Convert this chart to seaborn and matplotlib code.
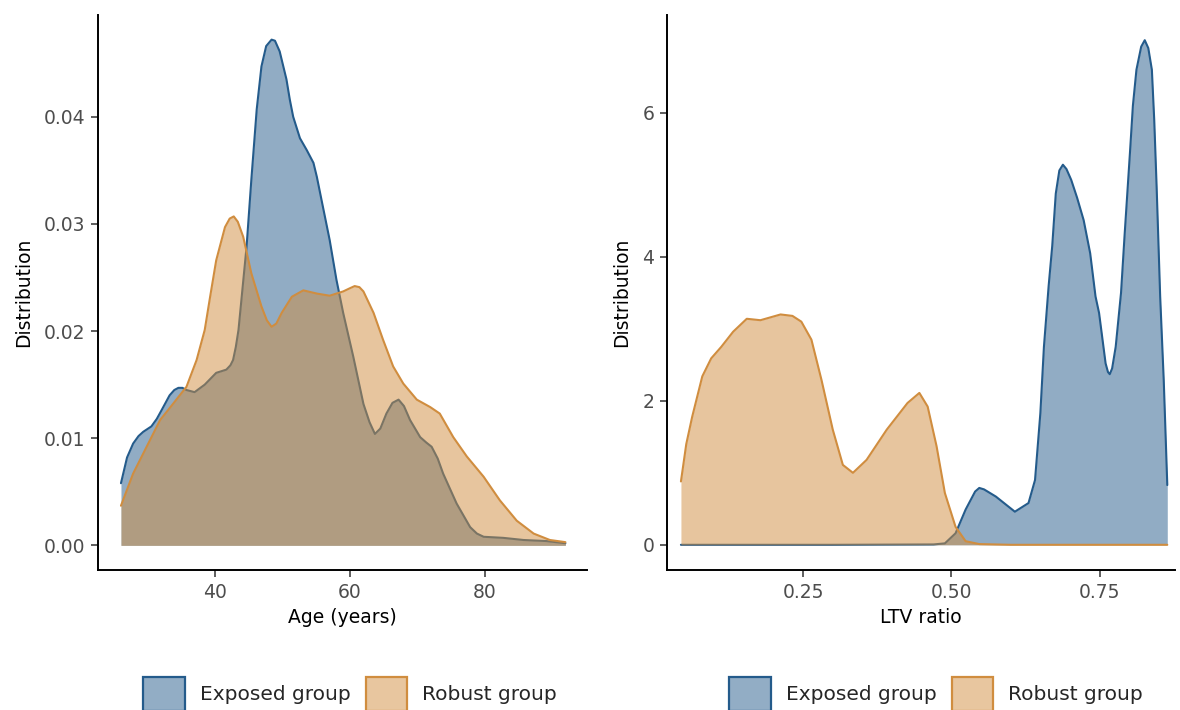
import matplotlib
matplotlib.use("Agg")
import matplotlib.pyplot as plt
from matplotlib.patches import Patch
import seaborn as sns

# density curves
age_exposed = [26.1, 27.0, 27.9, 28.7, 29.4, 30.6, 31.4, 32.1, 33.3, 34.0, 34.6, 35.2, 35.8, 37.0,
               38.5, 40.2, 41.7, 42.3, 42.7, 43.1, 43.5, 44.1, 44.7, 45.4, 46.2, 46.9, 47.6, 48.4,
               48.9, 49.6, 50.6, 51.1, 51.6, 52.6, 53.6, 54.1, 54.6, 55.1, 56.0, 57.0, 58.0, 59.0,
               60.5, 62.0, 62.9, 63.7, 64.5, 65.4, 66.3, 67.2, 68.0, 68.9, 70.4, 71.3, 72.1, 73.0,
               73.8, 75.8, 77.8, 78.8, 79.8, 82.7, 85.7, 89.1, 91.9]
dens_age_exposed = [0.0058, 0.0082, 0.0095, 0.0102, 0.0106, 0.0111, 0.0118, 0.0126, 0.0140, 0.0145,
                    0.0147, 0.0147, 0.0145, 0.0143, 0.0150, 0.0161, 0.0164, 0.0168, 0.0173, 0.0185,
                    0.0201, 0.0240, 0.0279, 0.0341, 0.0407, 0.0447, 0.0466, 0.0472, 0.0471, 0.0461,
                    0.0435, 0.0416, 0.0400, 0.0380, 0.0369, 0.0363, 0.0357, 0.0344, 0.0316, 0.0285,
                    0.0248, 0.0217, 0.0176, 0.0132, 0.0115, 0.0104, 0.0109, 0.0123, 0.0133, 0.0136,
                    0.0130, 0.0117, 0.0101, 0.0096, 0.0092, 0.0081, 0.0067, 0.0039, 0.0017, 0.0011,
                    0.0008, 0.0007, 0.0005, 0.0004, 0.0002]

age_robust = [26.1, 27.9, 29.9, 31.9, 33.8, 35.8, 37.3, 38.5, 39.3, 40.2, 41.5, 42.2, 42.8, 43.4,
              44.2, 45.4, 46.9, 47.7, 48.4, 49.1, 49.9, 51.4, 53.1, 55.1, 57.0, 59.0, 60.0, 60.7,
              61.4, 62.0, 63.5, 64.9, 66.4, 67.9, 69.9, 71.9, 73.3, 75.3, 77.3, 79.8, 82.2, 84.7,
              87.2, 89.6, 91.9]
dens_age_robust = [0.0037, 0.0067, 0.0092, 0.0117, 0.0132, 0.0148, 0.0173, 0.0201, 0.0232, 0.0266,
                   0.0297, 0.0305, 0.0307, 0.0302, 0.0288, 0.0254, 0.0223, 0.0210, 0.0204, 0.0207,
                   0.0217, 0.0232, 0.0238, 0.0235, 0.0233, 0.0237, 0.0240, 0.0242, 0.0241, 0.0237,
                   0.0217, 0.0192, 0.0167, 0.0151, 0.0136, 0.0129, 0.0123, 0.0101, 0.0083, 0.0064,
                   0.0042, 0.0023, 0.0011, 0.0005, 0.0003]

ltv_exposed = [0.044, 0.300, 0.470, 0.489, 0.507, 0.524, 0.540, 0.547, 0.555, 0.575, 0.607, 0.630,
               0.641, 0.650, 0.656, 0.664, 0.670, 0.676, 0.682, 0.688, 0.694, 0.702, 0.712, 0.723,
               0.734, 0.743, 0.749, 0.760, 0.764, 0.767, 0.771, 0.777, 0.786, 0.792, 0.801, 0.806,
               0.812, 0.820, 0.826, 0.832, 0.838, 0.842, 0.846, 0.852, 0.858, 0.864]
dens_ltv_exposed = [0.0, 0.0, 0.005, 0.02, 0.16, 0.49, 0.74, 0.79, 0.77, 0.67, 0.46, 0.58,
                    0.90, 1.83, 2.75, 3.60, 4.15, 4.88, 5.20, 5.28, 5.22, 5.07, 4.82, 4.51,
                    4.05, 3.45, 3.22, 2.52, 2.40, 2.37, 2.45, 2.75, 3.50, 4.30, 5.44, 6.10,
                    6.60, 6.92, 7.01, 6.90, 6.60, 5.90, 4.98, 3.45, 2.29, 0.83]

ltv_robust = [0.044, 0.053, 0.063, 0.080, 0.095, 0.112, 0.132, 0.155, 0.178, 0.212, 0.232, 0.247,
              0.264, 0.281, 0.300, 0.317, 0.334, 0.357, 0.391, 0.426, 0.446, 0.460, 0.475, 0.489,
              0.507, 0.524, 0.547, 0.600, 0.700, 0.864]
dens_ltv_robust = [0.88, 1.40, 1.78, 2.34, 2.59, 2.75, 2.96, 3.14, 3.12, 3.20, 3.18, 3.10,
                   2.85, 2.29, 1.60, 1.11, 1.00, 1.18, 1.60, 1.97, 2.11, 1.92, 1.37, 0.72,
                   0.25, 0.05, 0.01, 0.0, 0.0, 0.0]

groups = ["Exposed group", "Robust group"]
line_colors = ["#245b8b", "#d08d3f"]

sns.set_theme(style="ticks")
plt.rcParams["font.family"] = ["DejaVu Sans"]

fig = plt.figure(figsize=(11.8, 7.1), dpi=100)
ax1 = fig.add_axes([98 / 1180, 1 - 570 / 710, 489 / 1180, 555 / 710])
ax2 = fig.add_axes([667 / 1180, 1 - 570 / 710, 508 / 1180, 555 / 710])

panels = [
    (ax1, [(age_exposed, dens_age_exposed), (age_robust, dens_age_robust)], "Age (years)"),
    (ax2, [(ltv_exposed, dens_ltv_exposed), (ltv_robust, dens_ltv_robust)], "LTV ratio"),
]

for ax, series, xlabel in panels:
    z = 1
    # each group: area, then its outline, so the later area covers the earlier outline
    for (x, y), col in zip(series, line_colors):
        ax.fill_between(x, 0, y, color=col, alpha=0.5, linewidth=0, zorder=z)
        sns.lineplot(x=x, y=y, ax=ax, color=col, linewidth=1.5, zorder=z + 1)
        z += 2
    ax.set_xlabel(xlabel, fontsize=13.5, color="black", labelpad=5)
    ax.set_ylabel("Distribution", fontsize=13.5, color="black", labelpad=8)
    sns.despine(ax=ax)
    for s in ["left", "bottom"]:
        ax.spines[s].set_linewidth(1.4)
        ax.spines[s].set_color("black")
    ax.tick_params(axis="both", labelsize=13.5, labelcolor="#4d4d4d", color="#333333",
                   length=5, width=1.1, pad=4)
    ax.grid(False)

ax1.set_xlim(22.7, 95.1)
ax1.set_ylim(-0.0023, 0.0495)
ax1.set_xticks([40, 60, 80])
ax1.set_yticks([0.00, 0.01, 0.02, 0.03, 0.04])
ax1.set_yticklabels(["0.00", "0.01", "0.02", "0.03", "0.04"])

ax2.set_xlim(0.0205, 0.877)
ax2.set_ylim(-0.35, 7.36)
ax2.set_xticks([0.25, 0.50, 0.75])
ax2.set_xticklabels(["0.25", "0.50", "0.75"])
ax2.set_yticks([0, 2, 4, 6])

handles = []
for col in line_colors:
    rgb = matplotlib.colors.to_rgb(col)
    fill = [0.5 * c + 0.5 for c in rgb]
    handles.append(Patch(facecolor=fill, edgecolor=col, linewidth=1.6))

for cx in [350 / 1180, 936 / 1180]:
    fig.legend(handles, groups, loc="center", bbox_to_anchor=(cx, 1 - 694 / 710), ncol=2,
               frameon=False, fontsize=14.5, handlelength=2.05, handleheight=2.25,
               handletextpad=0.75, columnspacing=0.75, borderpad=0)

fig.savefig("out.png", dpi=100)
